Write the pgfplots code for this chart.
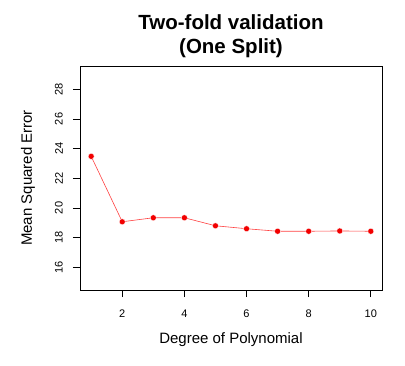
\documentclass[border=0pt]{standalone}
\usepackage{fontspec}
\setmainfont{Liberation Sans}
\usepackage{pgfplots}
\pgfplotsset{compat=1.18}
\begin{document}
\begin{tikzpicture}
\begin{axis}[name=ax, scale only axis, width=302pt, height=224pt,
  xmin=0.64, xmax=10.36, ymin=14.47, ymax=29.57,
  xtick={2,4,6,8,10}, ytick={16,18,20,22,24,26,28},
  tick pos=left, tick align=outside, major tick length=7pt,
  axis line style={line width=0.9pt},
  every tick/.style={line width=0.9pt, black},
  /pgf/number format/assume math mode=true,
  ticklabel style={font=\fontsize{11}{13}\selectfont},
  xticklabel style={anchor=north, inner sep=0pt, yshift=-13pt},
  yticklabel style={xshift=-10pt, rotate=90, anchor=south, inner sep=0pt},
  xlabel={Degree of Polynomial},
  ylabel={Mean Squared Error},
  label style={font=\fontsize{15}{18}\selectfont},
  xlabel style={at={(axis description cs:0.5,0)}, anchor=center, yshift=-50pt},
  ylabel style={at={(axis description cs:-0.172,0.5)}, anchor=center},
  title={Two-fold validation\\(One Split)},
  title style={align=center, font=\bfseries\fontsize{20.5}{24}\selectfont, at={(axis description cs:0.5,1)}, anchor=south, inner sep=0pt, yshift=2pt},
]
\addplot[red!75!white, line width=0.6pt, mark=*, mark size=3pt, mark options={fill=red!95!black, draw=white, line width=0.3pt, solid}]
coordinates {(1,23.48) (2,19.07) (3,19.34) (4,19.34) (5,18.80) (6,18.60) (7,18.43) (8,18.43) (9,18.45) (10,18.43)};
\end{axis}
\pgfresetboundingbox
\path (ax.south west) ++(-80pt,-75pt) rectangle ++(405pt,365pt);
\end{tikzpicture}
\end{document}
